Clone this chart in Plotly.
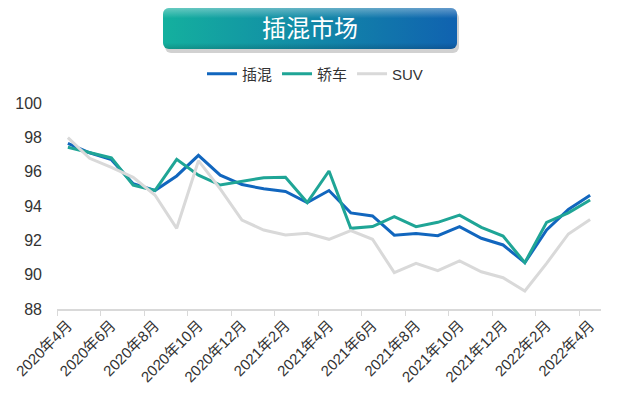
import plotly.graph_objects as go
import base64

months = ["2020年4月","2020年5月","2020年6月","2020年7月","2020年8月","2020年9月","2020年10月","2020年11月","2020年12月",
          "2021年1月","2021年2月","2021年3月","2021年4月","2021年5月","2021年6月","2021年7月","2021年8月","2021年9月",
          "2021年10月","2021年11月","2021年12月","2022年1月","2022年2月","2022年3月","2022年4月"]
phev = [97.65, 97.1, 96.7, 95.3, 94.9, 95.75, 96.95, 95.8, 95.25, 95.0, 94.85, 94.2, 94.9, 93.6, 93.42, 92.3, 92.4,
        92.27, 92.8, 92.12, 91.73, 90.7, 92.6, 93.8, 94.62]
sedan = [97.42, 97.1, 96.8, 95.22, 94.9, 96.72, 95.8, 95.22, 95.42, 95.65, 95.67, 94.2, 96.04, 92.7, 92.8, 93.38, 92.8,
         93.05, 93.47, 92.76, 92.25, 90.7, 93.05, 93.6, 94.35]
suv = [97.98, 96.78, 96.25, 95.67, 94.64, 92.7, 96.64, 95.0, 93.18, 92.6, 92.31, 92.41, 92.06, 92.56, 92.06, 90.12, 90.66,
       90.23, 90.8, 90.17, 89.82, 89.05, 90.66, 92.37, 93.22]
series_names = ["插混", "轿车", "SUV"]
series_colors = ["#1166be", "#1fa596", "#d9d9d9"]
y_ticks = [88, 90, 92, 94, 96, 98, 100]
title_text = "插混市场"

FONT = "Liberation Sans, Arial, Noto Sans CJK SC, sans-serif"

# page body has an 8px margin; the figure is sized/offset so window coords match
OFF = 8
W, H = 620 - OFF, 400 - OFF
L, R, T, B = 57 - OFF, 19, 103 - OFF, 91
PW, PH = W - L - R, H - T - B

def px(x):  # window x -> paper
    return (x - OFF - L) / PW

def py(y):  # window y -> paper
    return (H - B - (y - OFF)) / PH

fig = go.Figure()
for name, vals, col in zip(series_names, [phev, sedan, suv], series_colors):
    fig.add_trace(go.Scatter(x=months, y=vals, name=name, mode="lines",
                             line=dict(color=col, width=3)))

svg = """<svg xmlns='http://www.w3.org/2000/svg' width='300' height='46' viewBox='0 0 300 46'>
<defs><linearGradient id='g' x1='0' y1='0' x2='1' y2='0'>
<stop offset='0' stop-color='#14b09e'/><stop offset='1' stop-color='#1062b0'/></linearGradient>
<linearGradient id='h' x1='0' y1='0' x2='0' y2='1'>
<stop offset='0' stop-color='#ffffff' stop-opacity='0.35'/><stop offset='0.25' stop-color='#ffffff' stop-opacity='0'/>
<stop offset='0.85' stop-color='#000000' stop-opacity='0'/><stop offset='1' stop-color='#000000' stop-opacity='0.15'/></linearGradient>
</defs>
<rect x='2' y='4' width='294' height='41' rx='6' fill='#000' opacity='0.18'/>
<rect x='0' y='0' width='294' height='41' rx='6' fill='url(#g)'/>
<rect x='0' y='0' width='294' height='41' rx='6' fill='url(#h)'/>
</svg>"""
src = "data:image/svg+xml;base64," + base64.b64encode(svg.encode()).decode()
fig.add_layout_image(dict(source=src, xref="paper", yref="paper", x=px(163), y=py(8),
                          sizex=300 / PW, sizey=46 / PH, xanchor="left", yanchor="top",
                          sizing="stretch", layer="above"))
fig.add_annotation(text=title_text, xref="paper", yref="paper", x=px(310), y=py(29),
                   showarrow=False, font=dict(size=24, color="white", family=FONT),
                   xanchor="center", yanchor="middle")

fig.update_layout(
    width=W, height=H,
    margin=dict(l=L, r=R, t=T, b=B, autoexpand=False),
    paper_bgcolor="white", plot_bgcolor="white",
    font=dict(family=FONT, color="#333333"),
    showlegend=True,
    legend=dict(orientation="h", x=px(315), xanchor="center", y=py(74), yanchor="middle",
                font=dict(size=15, color="#333333"), itemwidth=30, tracegroupgap=0,
                bgcolor="rgba(0,0,0,0)"),
    xaxis=dict(type="category", tickmode="linear", dtick=2, tickson="boundaries",
               ticks="outside", ticklen=5, tickcolor="#d9d9d9", showline=True, linecolor="#d9d9d9",
               linewidth=1.5, showgrid=False, tickangle=-45, tickfont=dict(size=15, color="#333333"),
               range=[-0.5, 24.5], automargin=False),
    yaxis=dict(range=[88, 100], tickvals=y_ticks, showgrid=False, showline=False, zeroline=False,
               tickfont=dict(size=16, color="#333333"), ticks="", automargin=False,
               ticklabelstandoff=14),
)

fig.write_html("out.html")
